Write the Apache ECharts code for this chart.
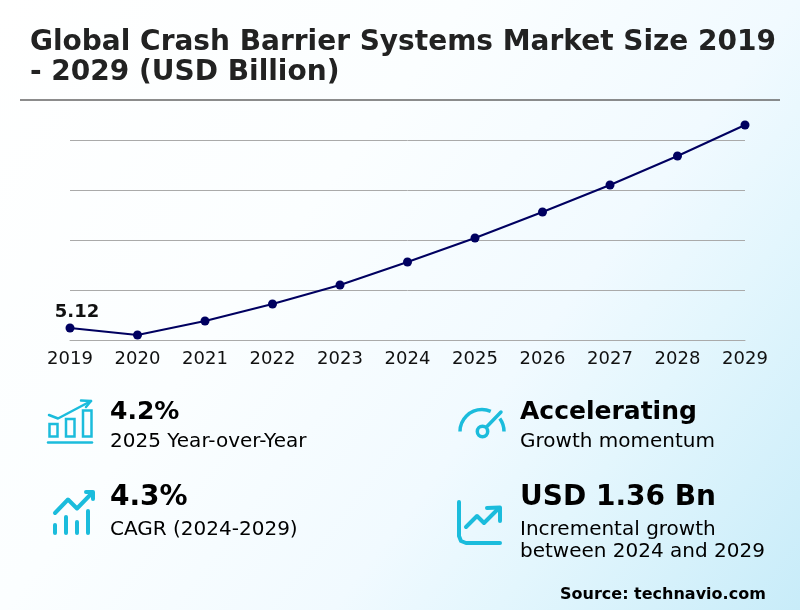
<!DOCTYPE html>
<html>
<head>
<meta charset="utf-8">
<title>Crash Barrier Systems</title>
<style>
html, body { margin: 0; padding: 0; }
#chart { width: 800px; height: 610px; }
</style>
<script src="https://cdn.jsdelivr.net/npm/echarts@6/dist/echarts.min.js"></script>
</head>
<body>
<div id="chart"></div>
<script>
var years = ['2019', '2020', '2021', '2022', '2023', '2024', '2025', '2026', '2027', '2028', '2029'];
var marketSize = [5.12, 5.05, 5.19, 5.36, 5.55, 5.78, 6.02, 6.28, 6.55, 6.84, 7.15];

var FONT = '"DejaVu Sans"';
var ICON = '#1bbcdc';

function txt(x, y, text, size, bold, color) {
    return {
        type: 'text', x: x, y: y,
        style: { text: text, font: (bold ? 'bold ' : '') + size + 'px ' + FONT, fill: color || '#000', textVerticalAlign: 'middle' }
    };
}
function poly(points, w) {
    return { type: 'polyline', shape: { points: points }, style: { stroke: ICON, lineWidth: w, fill: null, lineCap: 'round', lineJoin: 'round' } };
}
function box(x, y, w, h) {
    return { type: 'rect', shape: { x: x, y: y, width: w, height: h }, style: { stroke: ICON, lineWidth: 2.5, fill: null } };
}
function arc(cx, cy, r, a, b, w) {
    return { type: 'arc', shape: { cx: cx, cy: cy, r: r, startAngle: a, endAngle: b, clockwise: true }, style: { stroke: ICON, lineWidth: w, fill: null } };
}

var icons = [
    // 4.2%
    poly([[48, 442.5], [92, 442.5]], 2.5),
    box(49.5, 424, 8, 12.5), box(66, 419, 8.5, 17.5), box(83, 410.5, 8.5, 26),
    poly([[49, 415], [58, 418.5], [91, 401]], 2.5),
    poly([[81, 400.5], [91, 401], [86, 407]], 2.5),
    // 4.3%
    poly([[55, 513], [68, 499.5], [77, 508.5], [92, 493]], 4),
    poly([[86, 492], [93, 492], [93, 499]], 4),
    poly([[55, 525], [55, 533]], 4), poly([[66, 517], [66, 533]], 4),
    poly([[77, 522], [77, 533]], 4), poly([[88, 511], [88, 533]], 4),
    // gauge
    arc(482, 431.5, 22, Math.PI, 1.63 * Math.PI, 3.5),
    arc(482, 431.5, 22, 1.8 * Math.PI, 2 * Math.PI, 3.5),
    { type: 'circle', shape: { cx: 482.5, cy: 431.5, r: 5.2 }, style: { stroke: ICON, lineWidth: 3.5, fill: null } },
    poly([[486.5, 427], [501, 412]], 3.5),
    // growth
    poly([[459, 502], [459, 536], [461, 541], [466, 543], [500, 543]], 4),
    poly([[466, 527], [477, 516], [484, 523], [499, 508]], 4),
    poly([[487, 508], [500, 507.5], [500, 521]], 4)
];

var texts = [
    txt(110, 412, '4.2%', 25, true), txt(110, 442, '2025 Year-over-Year', 20),
    txt(110, 498, '4.3%', 28, true), txt(110, 530, 'CAGR (2024-2029)', 20),
    txt(520, 412, 'Accelerating', 25, true), txt(520, 442, 'Growth momentum', 20),
    txt(520, 498, 'USD 1.36 Bn', 28, true), txt(520, 530, 'Incremental growth', 20),
    txt(520, 552, 'between 2024 and 2029', 20),
    txt(560, 595, 'Source: technavio.com', 16, true)
];

var rule = { type: 'line', shape: { x1: 20, y1: 100, x2: 780, y2: 100 }, style: { stroke: '#666', lineWidth: 1.5 } };

var myChart = echarts.init(document.getElementById('chart'), null, { renderer: 'canvas' });
myChart.setOption({
    animation: false,
    backgroundColor: new echarts.graphic.LinearGradient(0, 0, 1, 1, [
        { offset: 0, color: '#ffffff' },
        { offset: 0.37, color: '#fbfeff' },
        { offset: 0.63, color: '#f1faff' },
        { offset: 0.76, color: '#e3f6fd' },
        { offset: 1, color: '#c8ecf9' }
    ]),
    title: {
        text: 'Global Crash Barrier Systems Market Size 2019\n- 2029 (USD Billion)',
        left: 25, top: 23,
        textStyle: { fontFamily: FONT, fontSize: 28, fontWeight: 'bold', color: '#222', lineHeight: 30 }
    },
    grid: { left: 70, right: 55, top: 90, bottom: 270 },
    xAxis: {
        type: 'category',
        boundaryGap: false,
        data: years,
        axisTick: { show: false },
        axisLine: { lineStyle: { color: '#aaa', width: 1 } },
        axisLabel: { fontFamily: FONT, fontSize: 18, color: '#111', margin: 10, interval: 0 }
    },
    yAxis: {
        type: 'value',
        min: 5, max: 7.5, interval: 0.5,
        axisLabel: { show: false },
        axisLine: { show: false },
        axisTick: { show: false },
        splitLine: { showMaxLine: false, lineStyle: { color: '#aaa', width: 1 } }
    },
    series: [{
        type: 'line',
        symbol: 'circle',
        symbolSize: 9,
        itemStyle: { color: '#000060' },
        lineStyle: { color: '#000060', width: 2 },
        label: { fontFamily: FONT, fontSize: 18, fontWeight: 'bold', color: '#111', position: 'top', offset: [7, 3] },
        data: marketSize.map(function (v, i) {
            return i == 0 ? { value: v, label: { show: true } } : v;
        })
    }],
    graphic: { elements: [rule].concat(icons, texts) }
});
</script>
</body>
</html>
